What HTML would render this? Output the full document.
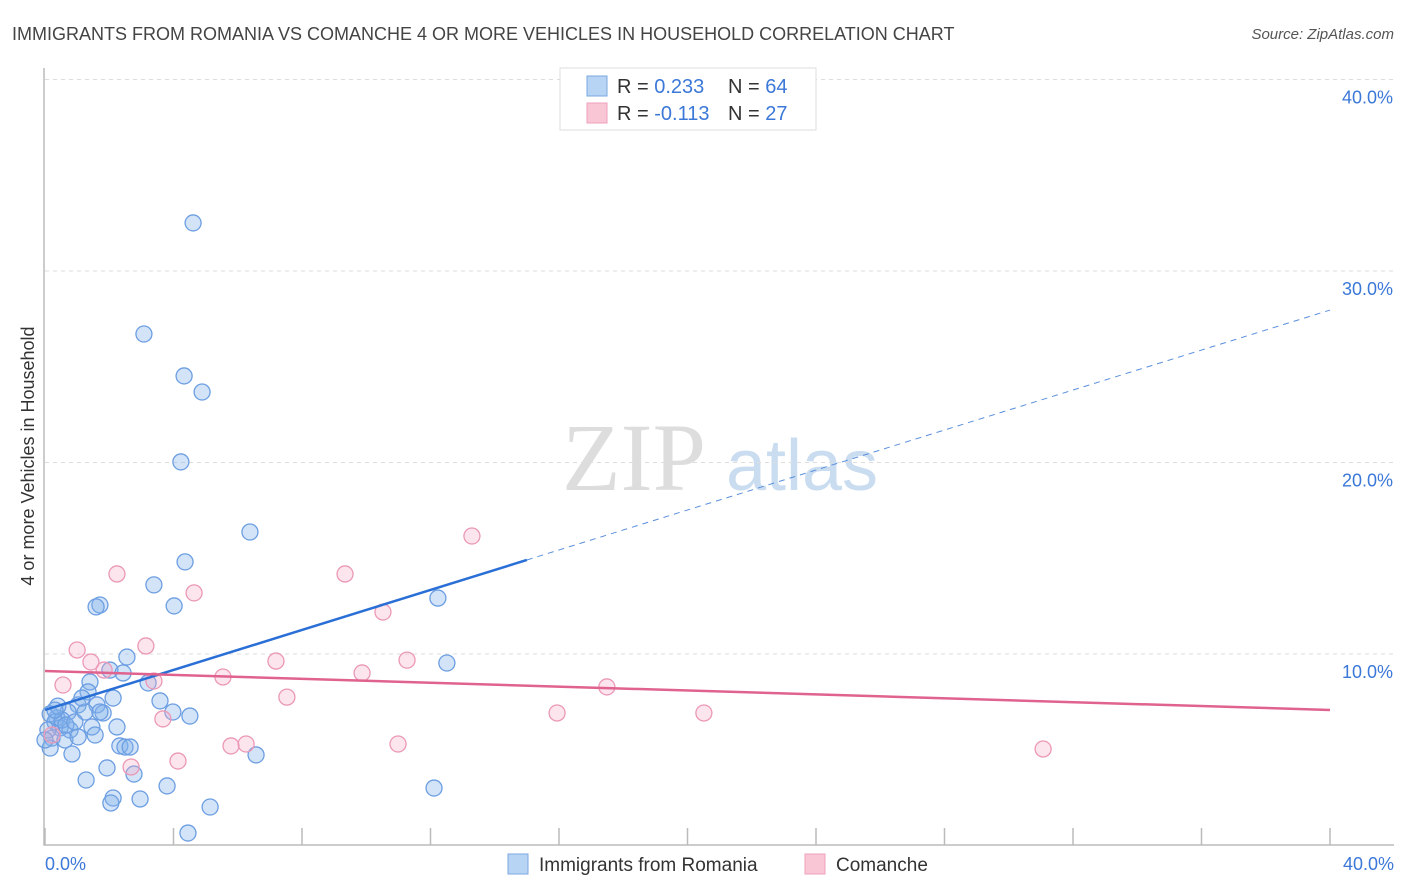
<!DOCTYPE html>
<html><head><meta charset="utf-8"><style>
body{margin:0;background:#fff;font-family:"Liberation Sans",sans-serif;}
svg{display:block}
</style></head><body>
<svg id="chart" width="1406" height="892" xmlns="http://www.w3.org/2000/svg">
<text x="12" y="40" font-size="18" fill="#444">IMMIGRANTS FROM ROMANIA VS COMANCHE 4 OR MORE VEHICLES IN HOUSEHOLD CORRELATION CHART</text>
<text x="1394" y="39" font-size="15" fill="#555" font-style="italic" text-anchor="end">Source: ZipAtlas.com</text>
<g>
<text x="634" y="490" font-size="96" font-family="Liberation Serif,serif" fill="#ddd" text-anchor="middle">ZIP</text>
<text x="802" y="490" font-size="72" fill="#c9dcf0" text-anchor="middle">atlas</text>
</g>
<g id="grid"></g>
<g id="axes"></g>
<g id="points"></g>
<g id="trends"></g>
<text transform="translate(34,456) rotate(-90)" font-size="18" fill="#333" text-anchor="middle">4 or more Vehicles in Household</text>
<text x="45" y="870" font-size="18" fill="#3b78d8">0.0%</text>
<text x="1394" y="870" font-size="18" fill="#3b78d8" text-anchor="end">40.0%</text>
<g>
<rect x="560" y="68" width="256" height="62" fill="#fff" stroke="#ddd"/>
<rect x="587" y="76" width="20" height="20" fill="#b8d4f5" stroke="#7aa8e0"/>
<rect x="587" y="103" width="20" height="20" fill="#f9c6d6" stroke="#eea0ba"/>
<text x="617" y="93" font-size="20" fill="#333">R = <tspan fill="#3b78d8">0.233</tspan><tspan x="728">N = </tspan><tspan fill="#3b78d8">64</tspan></text>
<text x="617" y="120" font-size="20" fill="#333">R = <tspan fill="#3b78d8">-0.113</tspan><tspan x="728">N = </tspan><tspan fill="#3b78d8">27</tspan></text>
</g>
<g>
<rect x="508" y="854" width="20" height="20" fill="#b8d4f5" stroke="#7aa8e0"/>
<text x="539" y="871" font-size="19" fill="#333">Immigrants from Romania</text>
<rect x="805" y="854" width="20" height="20" fill="#f9c6d6" stroke="#eea0ba"/>
<text x="836" y="871" font-size="19" fill="#333">Comanche</text>
</g>
</svg>
<script>
const yTicks=[10,20,30,40];
const yTickLabels=["10.0%","20.0%","30.0%","40.0%"];
const xTicks=[0,4,8,12,16,20,24,28,32,36,40];
const blueX=[4.61,3.08,4.33,4.89,4.23,6.38,4.36,3.39,1.71,1.59,4.02,12.23,12.51,2.55,2.02,2.43,3.21,3.58,1.40,1.34,2.12,1.62,1.81,1.03,1.25,0.72,0.37,0.16,0.31,0.47,0.78,1.46,2.24,0.22,0.62,1.03,0.16,0.84,2.33,2.49,2.65,3.98,4.51,6.57,1.93,2.77,1.28,3.80,2.12,2.05,2.96,5.14,12.11,4.45,0.53,0.09,0.40,1.71,1.15,0.31,0,1.56,0.65,0.93];
const blueY=[32.51,26.71,24.52,23.68,20.03,16.37,14.81,13.61,12.56,12.46,12.51,12.92,9.53,9.84,9.16,9.01,8.49,7.55,8.54,8.02,7.70,7.34,6.92,7.34,6.97,6.97,6.66,6.87,6.45,6.14,6.03,6.19,6.19,5.61,5.51,5.67,5.09,4.78,5.20,5.14,5.14,6.97,6.76,4.73,4.05,3.73,3.42,3.11,2.48,2.22,2.43,2.01,3.00,0.65,6.55,6.03,7.28,6.97,7.70,7.07,5.51,5.77,6.29,6.45];
const pinkX=[13.29,2.24,9.34,4.64,10.52,3.14,1.00,1.43,1.84,7.19,11.27,9.87,5.54,3.39,0.56,7.53,17.49,3.67,15.94,20.51,5.79,6.26,10.99,4.14,2.68,31.07,0.22];
const pinkY=[16.16,14.18,14.18,13.19,12.19,10.42,10.21,9.58,9.16,9.63,9.68,9.01,8.80,8.59,8.38,7.75,8.28,6.61,6.92,6.92,5.20,5.30,5.30,4.41,4.10,5.04,5.77];
const blueTrend=[7.08,0.522];
const pinkTrend=[9.11,-0.0508];
const blueSolidEnd=15;
const NS="http://www.w3.org/2000/svg";
const sx=v=>45+v*32.125;
const sy=v=>845.5-v*19.15;
function mk(tag,attrs,parent){const e=document.createElementNS(NS,tag);for(const k in attrs)e.setAttribute(k,attrs[k]);parent.appendChild(e);return e;}
const grid=document.getElementById('grid'),axes=document.getElementById('axes'),pts=document.getElementById('points'),tr=document.getElementById('trends');
yTicks.forEach((t,i)=>{
 const l=mk('line',{x1:45,x2:1394,y1:sy(t),y2:sy(t),stroke:'#ddd','stroke-dasharray':'4,4'},grid);
 
 
 const tx=mk('text',{x:1393,y:sy(t)+24,'font-size':18,fill:'#3b78d8','text-anchor':'end'},grid);
 tx.textContent=yTickLabels[i];
 
 
});
const ax=mk('path',{d:'M44,68 V845 H1394',fill:'none',stroke:'#bbb','stroke-width':1.5},axes);


xTicks.forEach(t=>{
 const l=mk('line',{x1:sx(t),x2:sx(t),y1:828,y2:845,stroke:'#bbb','stroke-width':1.5},axes);
 
 
});
blueX.forEach((x,i)=>{
 const c=mk('circle',{cx:sx(x),cy:sy(blueY[i]),r:8,fill:'rgba(130,178,236,0.35)',stroke:'#6c9ee2','stroke-width':1.3},pts);
 
 
});
pinkX.forEach((x,i)=>{
 const c=mk('circle',{cx:sx(x),cy:sy(pinkY[i]),r:8,fill:'rgba(245,170,196,0.3)',stroke:'#eb98b6','stroke-width':1.3},pts);
 
 
});
const bl=mk('line',{x1:sx(0),y1:sy(blueTrend[0]),x2:sx(blueSolidEnd),y2:sy(blueTrend[0]+blueTrend[1]*blueSolidEnd),stroke:'#2a6fd6','stroke-width':2.5},tr);


const bd=mk('line',{x1:sx(blueSolidEnd),y1:sy(blueTrend[0]+blueTrend[1]*blueSolidEnd),x2:sx(40),y2:sy(blueTrend[0]+blueTrend[1]*40),stroke:'#5a8fdc','stroke-width':1,'stroke-dasharray':'6,5'},tr);


const pl=mk('line',{x1:sx(0),y1:sy(pinkTrend[0]),x2:sx(40),y2:sy(pinkTrend[0]+pinkTrend[1]*40),stroke:'#e0628e','stroke-width':2.5},tr);


</script>
</body></html>
